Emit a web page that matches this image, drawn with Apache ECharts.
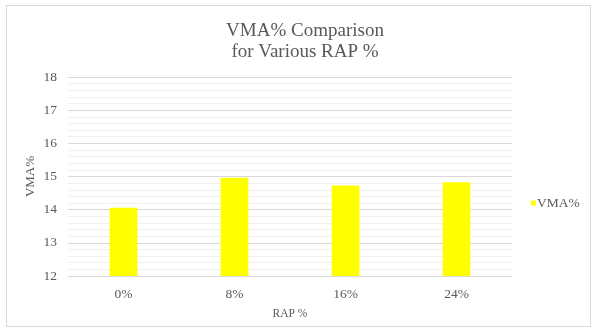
<!DOCTYPE html>
<html>
<head>
<meta charset="utf-8">
<script src="https://cdn.jsdelivr.net/npm/echarts@6/dist/echarts.min.js"></script>
<style>
  html, body { margin: 0; padding: 0; background: #fff; }
  #frame { position: absolute; left: 6px; top: 5px; width: 585px; height: 322px; border: 1px solid #d9d9d9; box-sizing: border-box; }
  #chart { position: absolute; left: 0; top: 0; width: 596px; height: 333px; }
</style>
</head>
<body>
<div id="frame"></div>
<div id="chart"></div>
<script>
const categories = ['0%', '8%', '16%', '24%'];
const vmaValues = [14.06, 14.96, 14.73, 14.83];
const seriesName = 'VMA%';

const serif = '"Liberation Serif", "DejaVu Serif", serif';
const textColor = '#595959';
const chart = echarts.init(document.getElementById('chart'), null, { renderer: 'canvas' });

chart.setOption({
  animation: false,
  backgroundColor: 'transparent',
  title: {
    text: 'VMA% Comparison\nfor Various RAP %',
    left: 300,
    textAlign: 'center',
    top: 16,
    textStyle: { fontFamily: serif, fontSize: 19, fontWeight: 'normal', color: textColor, lineHeight: 21 }
  },
  legend: {
    data: [seriesName],
    left: 526,
    top: 191,
    itemWidth: 5,
    itemHeight: 5,
    icon: 'rect',
    itemGap: 4,
    textStyle: { fontFamily: serif, fontSize: 13.5, color: textColor, padding: [0, 0, 0, -4] }
  },
  grid: { left: 68, right: 84, top: 77, bottom: 57, containLabel: false },
  xAxis: {
    type: 'category',
    data: categories,
    name: 'RAP %',
    nameLocation: 'middle',
    nameGap: 32,
    nameMoveOverlap: false,
    nameTextStyle: { fontFamily: serif, fontSize: 11.5, color: textColor },
    axisLine: { lineStyle: { color: '#d9d9d9', width: 1 } },
    axisTick: { show: false },
    axisLabel: { fontFamily: serif, fontSize: 13.5, color: textColor, margin: 11 }
  },
  yAxis: {
    type: 'value',
    min: 12,
    max: 18,
    interval: 1,
    name: 'VMA%',
    nameLocation: 'middle',
    nameGap: 31,
    nameMoveOverlap: false,
    nameTextStyle: { fontFamily: serif, fontSize: 13, color: textColor },
    axisLine: { show: false },
    axisTick: { show: false },
    axisLabel: { fontFamily: serif, fontSize: 13.5, color: textColor, margin: 11 },
    splitLine: { lineStyle: { color: '#d9d9d9', width: 1 } },
    minorTick: { show: false, splitNumber: 5 },
    minorSplitLine: { show: true, lineStyle: { color: '#f0f0f0', width: 1 } }
  },
  series: [{
    name: seriesName,
    type: 'bar',
    data: vmaValues,
    barWidth: '25%',
    itemStyle: { color: '#ffff00' }
  }]
});
</script>
</body>
</html>
